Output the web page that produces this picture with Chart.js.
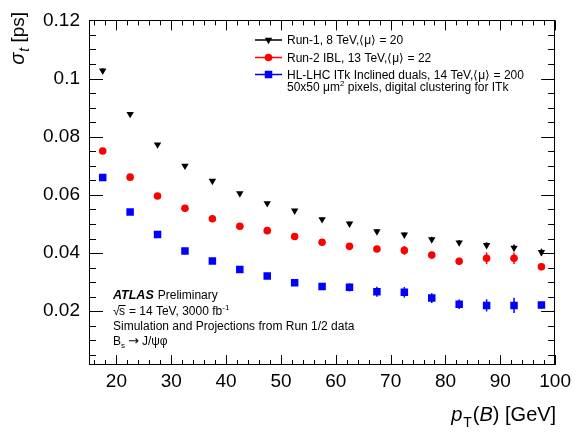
<!DOCTYPE html>
<html><head><meta charset="utf-8">
<script src="https://cdn.jsdelivr.net/npm/chart.js@4/dist/chart.umd.min.js"></script>
<style>html,body{margin:0;padding:0;background:#fff}#wrap{width:576px;height:433px}</style>
</head><body><div id="wrap"><canvas id="c" width="576" height="433"></canvas></div>
<script>
// ---- data ----
const pT = [17.5,22.5,27.5,32.5,37.5,42.5,47.5,52.5,57.5,62.5,67.5,72.5,77.5,82.5,87.5,92.5,97.5];
const run1 = [0.1027,0.0878,0.0773,0.0700,0.0648,0.0605,0.0571,0.0546,0.0516,0.0501,0.0474,0.0463,0.0447,0.0436,0.0427,0.0418,0.0403];
const run1Err = [0.0008,0.0006,0.0005,0.0005,0.0005,0.0005,0.0005,0.0006,0.0006,0.0007,0.0008,0.0008,0.0009,0.0009,0.0010,0.0011,0.0012];
const run2 = [0.0751,0.0661,0.0596,0.0554,0.0518,0.0492,0.0477,0.0457,0.0437,0.0423,0.0414,0.0409,0.0393,0.0372,0.0382,0.0382,0.0353];
const run2Err = [0.0006,0.0005,0.0005,0.0005,0.0005,0.0006,0.0006,0.0007,0.0008,0.0010,0.0010,0.0015,0.0011,0.0012,0.0020,0.0020,0.0012];
const hllhc = [0.0660,0.0541,0.0464,0.0407,0.0373,0.0343,0.0321,0.0298,0.0285,0.0282,0.0267,0.0265,0.0245,0.0224,0.0220,0.0220,0.0221];
const hllhcErr = [0.0008,0.0007,0.0007,0.0008,0.0009,0.0009,0.0010,0.0011,0.0012,0.0014,0.0017,0.0018,0.0017,0.0016,0.0021,0.0026,0.0012];
const xTicks = [20,30,40,50,60,70,80,90,100];
const yTicks = [0.02,0.04,0.06,0.08,0.1,0.12];
const yTickLabels = ['0.02','0.04','0.06','0.08','0.1','0.12'];
const seriesNames = ['Run-1, 8 TeV,\u27E8\u03BC\u27E9 = 20','Run-2 IBL, 13 TeV,\u27E8\u03BC\u27E9 = 22','HL-LHC ITk Inclined duals, 14 TeV,\u27E8\u03BC\u27E9 = 200'];

const FONT = '"Liberation Sans", Arial, sans-serif';
const pts = (ys) => pT.map((x,i)=>({x:x,y:ys[i]}));

function drawRuns(ctx, x, y, runs, measureOnly){
  let cx = x;
  for (const r of runs){
    ctx.font = r.font;
    if(!measureOnly) ctx.fillText(r.t, cx + (r.dx||0), y + (r.dy||0));
    cx += ctx.measureText(r.t).width + (r.dx||0) + (r.gap||0);
  }
  return cx - x;
}

const errPlugin = {
  id:'errbars',
  beforeDatasetsDraw(chart){
    const ctx = chart.ctx, xs = chart.scales.x, ys = chart.scales.y;
    const errs = [run1Err, run2Err, hllhcErr];
    chart.data.datasets.forEach((ds,di)=>{
      ctx.save(); ctx.strokeStyle = ds.borderColor; ctx.lineWidth = 1.5;
      ds.data.forEach((p,i)=>{
        const px = xs.getPixelForValue(p.x);
        ctx.beginPath();
        ctx.moveTo(px, ys.getPixelForValue(p.y - errs[di][i]));
        ctx.lineTo(px, ys.getPixelForValue(p.y + errs[di][i]));
        ctx.stroke();
      });
      ctx.restore();
    });
  }
};

const framePlugin = {
  id:'frame',
  afterDraw(chart){
    const ctx = chart.ctx, a = chart.chartArea, xs = chart.scales.x, ys = chart.scales.y;
    ctx.save();
    ctx.strokeStyle = '#000'; ctx.lineWidth = 1;
    ctx.strokeRect(Math.round(a.left)+0.5, Math.round(a.top)+0.5, Math.round(a.right-a.left)-1, Math.round(a.bottom-a.top)-1);
    const xMinorStep = 2, yMinorStep = 0.005;
    ctx.beginPath();
    for (let v = 16; v <= 100.001; v += xMinorStep){
      const px = Math.round(xs.getPixelForValue(v)) + 0.5;
      const major = xTicks.some(t=>Math.abs(t-v)<1e-6);
      const L = major ? 10 : 5;
      ctx.moveTo(px, a.bottom); ctx.lineTo(px, a.bottom - L);
      ctx.moveTo(px, a.top); ctx.lineTo(px, a.top + L);
    }
    for (let k = 1; k*yMinorStep <= 0.12 + 1e-9; k++){
      const v = k*yMinorStep;
      const py = Math.round(ys.getPixelForValue(v)) + 0.5;
      const major = yTicks.some(t=>Math.abs(t-v)<1e-6);
      const L = major ? 14 : 7;
      ctx.moveTo(a.left, py); ctx.lineTo(a.left + L, py);
      ctx.moveTo(a.right, py); ctx.lineTo(a.right - L, py);
    }
    ctx.stroke();

    ctx.fillStyle = '#000';
    ctx.textBaseline = 'alphabetic'; ctx.textAlign = 'left';
    // x axis title, right aligned
    const xr = [
      {t:'p', font:'italic 20px '+FONT},
      {t:'T', font:'14px '+FONT, dy:6, dx:1},
      {t:'(', font:'20px '+FONT, dx:1},
      {t:'B', font:'italic 20px '+FONT},
      {t:') [GeV]', font:'20px '+FONT}
    ];
    const wx = drawRuns(ctx,0,0,xr,true);
    drawRuns(ctx, a.right + 1 - wx, 421, xr);
    // y axis title, rotated
    ctx.save();
    ctx.translate(24, 12); ctx.rotate(-Math.PI/2);
    const yr = [
      {t:'\u03C3', font:'italic 20px '+FONT},
      {t:'t', font:'italic 14px '+FONT, dy:5, dx:1},
      {t:' [ps]', font:'19px '+FONT}
    ];
    const wy = drawRuns(ctx,0,0,yr,true);
    drawRuns(ctx, -wy, 0, yr);
    ctx.restore();

    // legend
    const lx0 = 255, lx1 = 282, tx = 287;
    const rowsY = [40, 57.5, 74.5];
    chart.data.datasets.forEach((ds,i)=>{
      ctx.strokeStyle = ds.borderColor; ctx.lineWidth = 1.5;
      ctx.beginPath(); ctx.moveTo(lx0, rowsY[i]); ctx.lineTo(lx1, rowsY[i]); ctx.stroke();
      ctx.fillStyle = ds.backgroundColor;
      Chart.helpers.drawPoint(ctx, {pointStyle: ds.pointStyle, radius: ds.pointRadius, rotation: ds.rotation||0, borderWidth:0}, (lx0+lx1)/2, rowsY[i]);
      ctx.fillStyle = '#000';
      ctx.font = '12px '+FONT;
      ctx.fillText(seriesNames[i], tx, rowsY[i] + 4.3);
    });
    drawRuns(ctx, tx, 90.5, [
      {t:'50x50 \u03BCm', font:'12px '+FONT},
      {t:'2', font:'8px '+FONT, dy:-5},
      {t:' pixels, digital clustering for ITk', font:'12px '+FONT}
    ]);

    // ATLAS labels
    const ax = 113;
    drawRuns(ctx, ax, 299, [
      {t:'ATLAS', font:'italic bold 12.5px '+FONT, gap:4},
      {t:'Preliminary', font:'12px '+FONT}
    ]);
    ctx.font = '12px '+FONT;
    const wRoot = ctx.measureText('\u221A').width;
    ctx.fillText('\u221A', ax, 315);
    const ws = ctx.measureText('s').width;
    ctx.fillText('s', ax + wRoot - 0.5, 315);
    ctx.lineWidth = 1; ctx.strokeStyle = '#000';
    ctx.beginPath(); ctx.moveTo(ax + wRoot - 1, 305.5); ctx.lineTo(ax + wRoot + ws, 305.5); ctx.stroke();
    drawRuns(ctx, ax + wRoot + ws, 315, [
      {t:' = 14 TeV, 3000 fb', font:'12px '+FONT},
      {t:'-1', font:'8px '+FONT, dy:-5}
    ]);
    ctx.font = '12px '+FONT;
    ctx.fillText('Simulation and Projections from Run 1/2 data', ax, 330);
    drawRuns(ctx, ax, 345, [
      {t:'B', font:'12px '+FONT},
      {t:'s', font:'8px '+FONT, dy:3, gap:3},
      {t:'\u2192', font:'13px "DejaVu Sans", sans-serif', gap:3},
      {t:'J/\u03C8\u03C6', font:'12px '+FONT}
    ]);
    ctx.restore();
  }
};

new Chart(document.getElementById('c'), {
  type:'scatter',
  data:{ datasets:[
    {label:seriesNames[0], data:pts(run1), pointStyle:'triangle', rotation:180, pointRadius:4.3, backgroundColor:'#000', borderColor:'#000', borderWidth:0, showLine:false},
    {label:seriesNames[1], data:pts(run2), pointStyle:'circle', pointRadius:3.8, backgroundColor:'#ff0000', borderColor:'#ff0000', borderWidth:0, showLine:false},
    {label:seriesNames[2], data:pts(hllhc), pointStyle:'rect', pointRadius:5.3, backgroundColor:'#0000ff', borderColor:'#0000ff', borderWidth:0, showLine:false}
  ]},
  options:{
    responsive:false, animation:false, devicePixelRatio:1,
    layout:{padding:{top:13, right:17, left:0, bottom:0}},
    plugins:{legend:{display:false}, tooltip:{enabled:false}},
    elements:{point:{hoverRadius:0}},
    scales:{
      x:{type:'linear', position:'bottom', min:15, max:100,
        grid:{display:false, drawTicks:false}, border:{display:false},
        ticks:{font:{family:FONT, size:19}, color:'#000', padding:5, maxRotation:0},
        afterBuildTicks:(s)=>{ s.ticks = xTicks.map(v=>({value:v})); },
        afterFit:(s)=>{ s.height = 68; }
      },
      y:{type:'linear', position:'left', min:0.0015, max:0.12,
        grid:{display:false, drawTicks:false}, border:{display:false},
        ticks:{font:{family:FONT, size:19}, color:'#000', padding:9,
          callback:(v,i)=>yTickLabels[i]},
        afterBuildTicks:(s)=>{ s.ticks = yTicks.map(v=>({value:v})); },
        afterFit:(s)=>{ s.width = 89; }
      }
    }
  },
  plugins:[errPlugin, framePlugin]
});
</script></body></html>
